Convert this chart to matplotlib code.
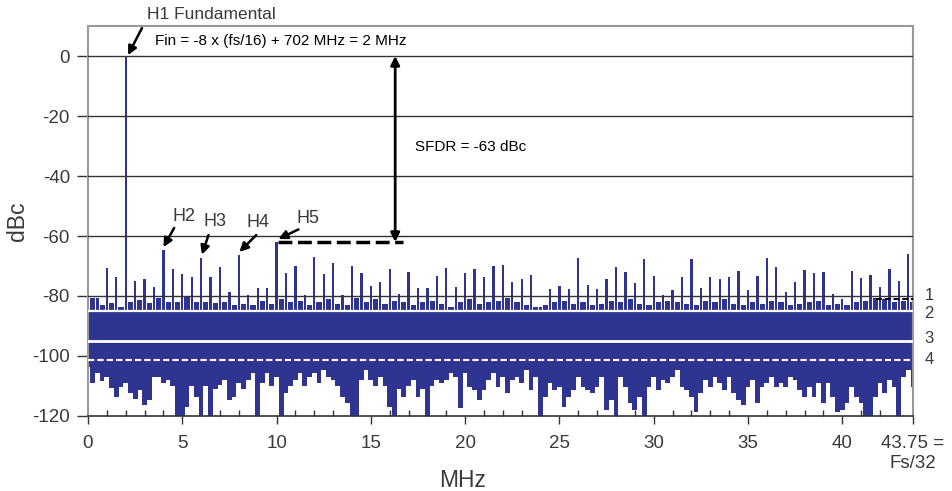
import matplotlib
matplotlib.use("Agg")
import matplotlib.pyplot as plt
from matplotlib.ticker import MultipleLocator
import numpy as np

plt.rcParams['font.family'] = ['Liberation Sans', 'DejaVu Sans']
plt.rcParams['axes.unicode_minus'] = False

# ---------------- data ----------------
# tall spurs, one every 0.5 MHz starting at 0 MHz (dBc)
main_peaks_dbc = [
    4.0, -80.7, -70.6, -73.8, 0.0, -74.9, -74.3, -77.0, -64.7, -71.1,
    -72.8, -73.8, -67.2, -73.6, -70.2, -78.6, -66.3, -79.7, -77.4, -77.4,
    -62.0, -72.4, -70.0, -79.5, -66.9, -72.8, -68.9, -79.7, -70.0, -72.4,
    -76.8, -75.2, -71.1, -79.4, -72.1, -77.4, -77.4, -73.2, -70.6, -77.1,
    -72.4, -71.1, -73.6, -69.9, -69.7, -75.2, -74.4, -73.0, -83.5, -77.7,
    -76.6, -77.7, -67.4, -76.3, -77.7, -74.3, -70.2, -71.9, -75.6, -67.7,
    -73.2, -79.7, -78.0, -73.8, -67.8, -77.4, -73.8, -74.3, -73.8, -71.6,
    -78.0, -73.3, -67.4, -70.2, -78.7, -75.2, -71.2, -72.4, -71.9, -79.3,
    -81.0, -71.6, -74.0, -73.0, -77.0, -71.1, -75.0, -66.0,
]
# low "grass" between the spurs, one every 0.5 MHz starting at 0.25 MHz (dBc)
grass_dbc = [
    -80.7, -83.0, -82.4, -83.5, -81.9, -81.3, -82.4, -80.7, -81.9, -82.0,
    -80.2, -82.0, -82.0, -82.4, -82.0, -83.0, -82.5, -83.0, -81.5, -82.5,
    -81.0, -82.0, -81.5, -83.0, -82.0, -81.0, -82.5, -83.0, -80.5, -82.0,
    -81.0, -82.5, -81.5, -82.0, -83.0, -82.0, -81.5, -82.5, -83.5, -82.0,
    -81.0, -82.5, -82.0, -81.5, -80.8, -82.0, -83.0, -83.5, -83.0, -82.0,
    -81.5, -82.5, -82.0, -83.0, -82.5, -81.5, -82.0, -81.0, -82.5, -83.0,
    -82.0, -81.5, -82.0, -82.5, -83.0, -81.5, -82.0, -81.0, -82.5, -83.0,
    -82.0, -82.5, -81.5, -82.0, -83.0, -82.5, -82.0, -81.5, -83.0, -82.5,
    -83.0, -82.0, -81.5, -80.5, -81.0, -82.0, -81.5, -82.0,
]
# lower envelope of the noise, one value every 0.25 MHz from 0 MHz (dBc)
low_min_dbc = [
    -103.6, -108.9, -105.8, -108.2, -106.9, -110.8, -113.6, -110.2, -109.1, -112.4,
    -114.4, -111.3, -116.3, -114.7, -107.0, -107.0, -109.0, -108.0, -110.0, -120.0,
    -120.0, -117.0, -110.0, -113.5, -120.0, -110.0, -120.0, -111.0, -109.7, -108.0,
    -114.7, -113.5, -109.0, -111.0, -108.0, -105.8, -120.0, -109.0, -105.8, -110.0,
    -107.0, -120.0, -112.4, -110.0, -108.0, -105.8, -110.0, -107.0, -105.8, -109.0,
    -104.6, -107.0, -108.0, -110.0, -113.5, -115.7, -120.0, -120.0, -108.0, -104.6,
    -108.0, -110.0, -107.0, -110.0, -117.0, -120.0, -111.0, -113.5, -110.0, -108.0,
    -113.5, -111.0, -120.0, -110.0, -108.0, -109.0, -108.0, -105.8, -106.9, -117.4,
    -105.8, -110.2, -111.3, -114.7, -111.3, -108.0, -105.8, -110.2, -106.9, -112.4,
    -108.0, -106.9, -109.1, -104.7, -111.3, -106.9, -120.0, -113.6, -109.1, -111.3,
    -110.2, -116.9, -113.6, -111.3, -106.9, -110.2, -111.3, -112.4, -110.2, -106.9,
    -118.0, -114.7, -120.0, -106.9, -110.2, -115.8, -118.0, -113.6, -120.0, -110.2,
    -106.9, -111.3, -108.0, -109.1, -106.9, -104.7, -110.2, -111.3, -113.6, -118.6,
    -112.4, -108.0, -110.2, -106.9, -109.1, -111.3, -106.9, -112.4, -114.7, -116.3,
    -110.2, -108.0, -115.8, -110.2, -109.1, -106.9, -110.2, -109.1, -110.2, -106.9,
    -108.0, -111.3, -113.6, -110.2, -113.6, -109.1, -115.8, -109.1, -113.6, -118.6,
    -118.0, -115.8, -110.2, -113.6, -115.8, -120.0, -120.0, -113.6, -109.1, -112.4,
    -108.0, -110.2, -120.0, -106.9, -104.7, -110.2,
]
noise_band_top = -85.0
noise_band_bottom = -101.3
ref_levels = [-81.0, -85.0, -95.0, -101.3]
ref_label_levels = [-80.0, -85.7, -94.3, -101.3]
ref_labels = ["1", "2", "3", "4"]
harmonic_names = ["H2", "H3", "H4", "H5"]
harmonic_freqs = [4.0, 6.0, 8.0, 10.0]
harmonic_dbc = [-64.7, -67.2, -66.3, -62.0]
fundamental_freq = 2.0
sfdr_level = -62.0
x_max = 43.75
xtick_vals = [0, 5, 10, 15, 20, 25, 30, 35, 40, 43.75]
xtick_labels = ["0", "5", "10", "15", "20", "25", "30", "35", "40", "43.75 =\nFs/32"]
ytick_vals = [0, -20, -40, -60, -80, -100, -120]
grid_vals = [0, -20, -40, -60, -80]

# ---------------- drawing ----------------
BLUE = "#2f3490"
TXT = "#3a3a3a"

fig = plt.figure(figsize=(9.53, 4.91), dpi=100)
ax = fig.add_axes([88 / 953, 1 - 416 / 491, 825 / 953, 390 / 491])

f_main = np.arange(len(main_peaks_dbc)) * 0.5
f_grass = 0.25 + np.arange(len(grass_dbc)) * 0.5
f_low = np.arange(len(low_min_dbc)) * 0.25

ax.fill_between([0, x_max], noise_band_bottom, noise_band_top, color=BLUE, lw=0, zorder=2)
ax.bar(f_grass, np.array(grass_dbc) - noise_band_top, bottom=noise_band_top,
       width=0.28, color=BLUE, lw=0, zorder=2)
ax.bar(f_main, np.array(main_peaks_dbc) - noise_band_top, bottom=noise_band_top,
       width=0.12, color=BLUE, lw=0, zorder=2)
ax.bar(f_low, np.array(low_min_dbc) - noise_band_bottom, bottom=noise_band_bottom,
       width=0.25, color=BLUE, lw=0, zorder=2)

for g in grid_vals:
    ax.axhline(g, color="#333333", lw=1.0, zorder=3)

# reference lines 1-4
ax.plot([41.8, x_max], [ref_levels[0]] * 2, color="black", lw=1.4, ls=(0, (3, 1.5)), zorder=5)
ax.plot([0, x_max], [ref_levels[1]] * 2, color="white", lw=1.6, zorder=4)
ax.plot([0, x_max], [ref_levels[2]] * 2, color="white", lw=2.0, zorder=4)
ax.plot([0, x_max], [ref_levels[3]] * 2, color="white", lw=1.5, ls=(0, (3, 1.5)), zorder=4)
for lvl, lab in zip(ref_label_levels, ref_labels):
    ax.text(44.35, lvl, lab, fontsize=12, color=TXT, ha="left", va="center", clip_on=False)

ax.set_xlim(0, x_max)
ax.set_ylim(-120, 10)

ax.set_xticks(xtick_vals)
ax.set_xticklabels(xtick_labels, multialignment="center")
ax.xaxis.set_minor_locator(MultipleLocator(1))
ax.set_yticks(ytick_vals)
ax.tick_params(axis="x", which="major", direction="out", length=6, width=1,
               color="#333333", labelsize=13.5, labelcolor=TXT, pad=8)
ax.tick_params(axis="x", which="minor", direction="in", length=4, width=1, color="#333333")
ax.tick_params(axis="y", direction="out", length=8, width=1, color="#333333",
               labelsize=13.5, labelcolor=TXT, pad=5)

for side in ["top", "right", "left"]:
    ax.spines[side].set_color("#999999")
    ax.spines[side].set_linewidth(1.5)
ax.spines["bottom"].set_color("#333333")
ax.spines["bottom"].set_linewidth(1.2)
ax.set_zorder(1)

ax.set_xlabel("MHz", fontsize=16.5, color=TXT)
ax.xaxis.set_label_coords(0.4545, -0.135)
ax.set_ylabel("dBc", fontsize=16.5, color=TXT)
ax.yaxis.set_label_coords(-0.072, 0.5)

# annotations
arrow = dict(arrowstyle="-|>", color="black", lw=1.8, mutation_scale=13, shrinkA=0, shrinkB=0)
ax.text(6.53, 13.7, "H1 Fundamental", fontsize=12.5, color=TXT, ha="center", va="center", clip_on=False)
ax.annotate("", xy=(fundamental_freq + 0.12, 0.3), xytext=(2.86, 9.3), arrowprops=arrow,
            annotation_clip=False, zorder=6)
ax.text(3.53, 5.1, "Fin = -8 x (fs/16) + 702 MHz = 2 MHz", fontsize=11, color="black",
        ha="left", va="center")

label_pos = [(5.07, -53.6), (6.75, -55.2), (9.04, -55.6), (11.69, -54.1)]
tails = [(4.57, -57.3), (6.39, -59.7), (8.92, -59.7), (11.16, -57.8)]
tip_dx = [0.0, 0.04, 0.03, 0.1]
for name, f, d, lp, tl, dx in zip(harmonic_names, harmonic_freqs, harmonic_dbc, label_pos, tails, tip_dx):
    ax.text(lp[0], lp[1], name, fontsize=13, color=TXT, ha="center", va="center")
    ax.annotate("", xy=(f + dx, d + 1.0), xytext=tl, arrowprops=arrow, zorder=6)

# SFDR marker
ax.annotate("", xy=(16.29, 0), xytext=(16.29, sfdr_level),
            arrowprops=dict(arrowstyle="<|-|>", color="black", lw=2.0, mutation_scale=13,
                            shrinkA=0, shrinkB=0), zorder=6)
ax.plot([10.1, 16.7], [sfdr_level, sfdr_level], color="black", lw=2.5, ls=(0, (4, 1.6)), zorder=6)
ax.text(17.36, -30.3, "SFDR = -63 dBc", fontsize=11, color="black", ha="left", va="center")

fig.savefig("out.png", dpi=100)
